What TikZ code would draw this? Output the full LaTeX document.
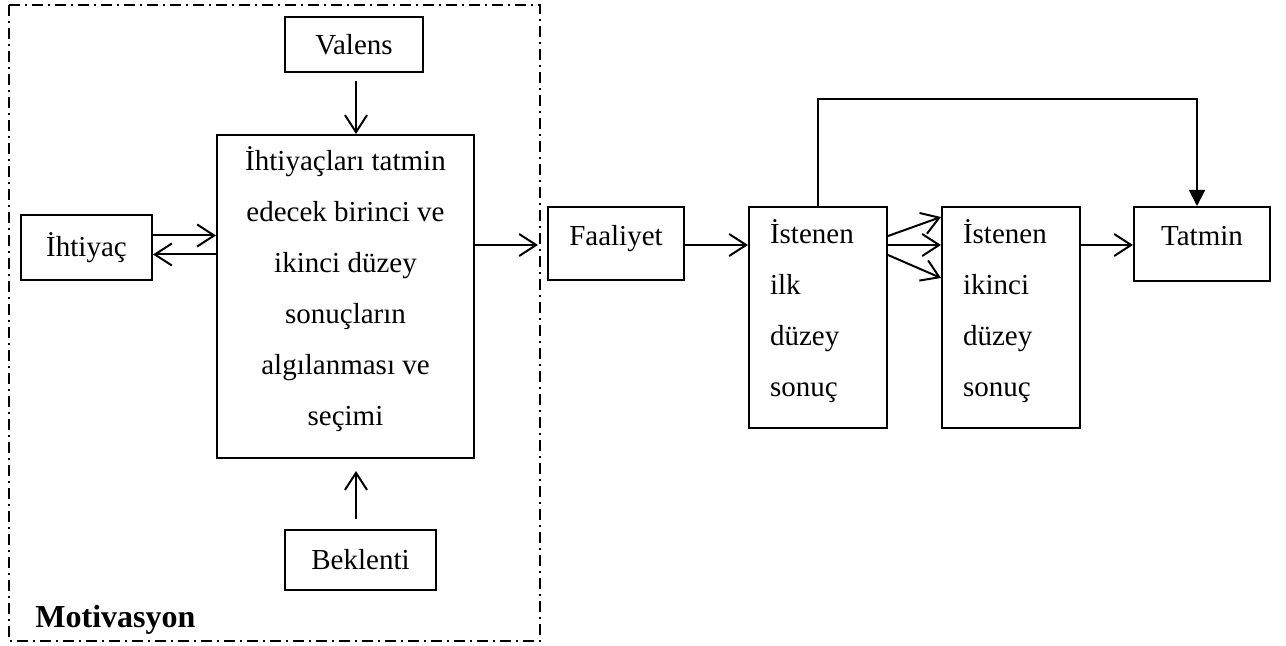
\documentclass[tikz,border=0pt]{standalone}
\usepackage{fontspec}
\setmainfont{Liberation Serif}
\usetikzlibrary{arrows.meta}

\begin{document}
\begin{tikzpicture}[x=0.5pt,y=-0.5pt,
  txt/.style={inner sep=0pt, font=\fontsize{14.5}{25.5}\selectfont},
  box/.style={draw, line width=1pt, inner sep=0pt,
    font=\fontsize{14.5}{25.5}\selectfont},
  raised/.style={text height=0.68em, text depth=0.5em},
  conn/.style={line width=1pt,
    -{Straight Barb[length=8.5pt,width=11pt]}},
  feedback/.style={line width=1pt, -{Triangle[length=8pt,width=8pt]}},
  frame/.style={line width=0.75pt,
    dash pattern=on 5.5pt off 2.5pt on 1pt off 2.5pt}]
\useasboundingbox (0,0) rectangle (1286,646);

% motivation frame
\draw[frame] (9,5) rectangle (540,641);
\node[anchor=base west, inner sep=0pt, font=\fontsize{16}{19}\bfseries\selectfont]
  (motiv) at (35,627) {Motivasyon};

% single-line boxes
\node[box, minimum width=69pt, minimum height=27.5pt] (valens) at (354,44.5) {Valens};
\node[box, minimum width=65.5pt, minimum height=32.5pt] (ihtiyac) at (86.5,247.5) {İhtiyaç};
\node[box, minimum width=75.5pt, minimum height=30pt] (beklenti) at (360.5,560) {Beklenti};
\node[box, raised, minimum width=68pt, minimum height=36.5pt] (faaliyet) at (616,243.5) {Faaliyet};
\node[box, raised, minimum width=68pt, minimum height=37pt] (tatmin) at (1202,244) {Tatmin};

% multi-line boxes and their texts
\node[box, minimum width=128.5pt, minimum height=161.5pt] (main) at (345.5,296.5) {};
\node[txt, align=center] (maintext) at (345.5,289)
  {İhtiyaçları tatmin\\edecek birinci ve\\ikinci düzey\\sonuçların\\algılanması ve\\seçimi};
\node[box, minimum width=69pt, minimum height=110.5pt] (ilk) at (818,317.5) {};
\node[txt, align=left, text width=48pt] (ilktext) at (818,311)
  {İstenen\\ilk\\düzey\\sonuç};
\node[box, minimum width=69pt, minimum height=110.5pt] (ikinci) at (1011,317.5) {};
\node[txt, align=left, text width=48pt] (ikincitext) at (1011,311)
  {İstenen\\ikinci\\düzey\\sonuç};

% helper coordinates
\coordinate (vx) at (356,0);
\coordinate (fr) at (538,245);
\coordinate (upS) at (0,236);
\coordinate (upE) at (0,217);
\coordinate (loS) at (0,255);
\coordinate (loE) at (0,278);
\coordinate (top) at (0,99);
\coordinate (fbx) at (1197,0);

% connectors
\draw[conn] ([yshift=-4pt]valens.south -| vx) -- (main.north -| vx);
\draw[conn] ([yshift=5pt]beklenti.north -| vx) -- ([yshift=-6pt]main.south -| vx);
\draw[conn] ([yshift=6pt]ihtiyac.east) -- ([yshift=6pt]ihtiyac.east -| main.west);
\draw[conn] ([yshift=-3.5pt]ihtiyac.east -| main.west) -- ([yshift=-3.5pt]ihtiyac.east);
\draw[conn] (main.east |- fr) -- (fr);
\draw[conn] (faaliyet.east |- fr) -- (ilk.west |- fr);
\draw[conn] (ilk.east |- upS) -- (ikinci.west |- upE);
\draw[conn] (ilk.east |- fr) -- (ikinci.west |- fr);
\draw[conn] (ilk.east |- loS) -- (ikinci.west |- loE);
\draw[conn] (ikinci.east |- fr) -- (tatmin.west |- fr);
\draw[feedback] (ilk.north) -- (ilk.north |- top) -- (fbx |- top) -- (fbx |- tatmin.north);
\end{tikzpicture}
\end{document}
